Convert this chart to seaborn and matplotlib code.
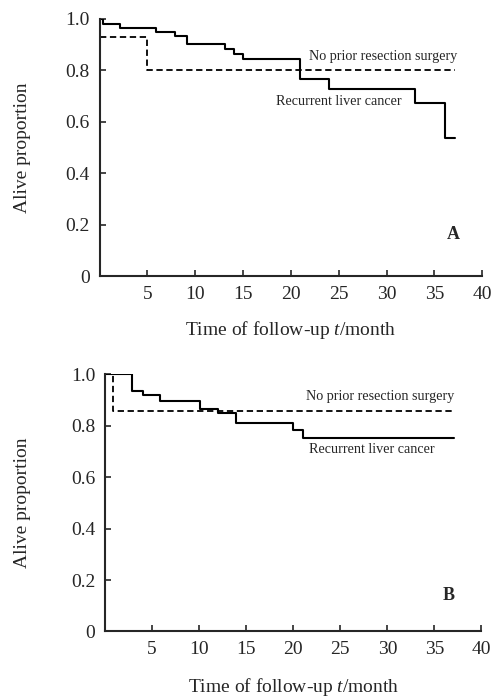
import matplotlib
matplotlib.use('Agg')
import matplotlib.pyplot as plt
import seaborn as sns

sns.set_style('ticks')
plt.rcParams['font.family'] = ['Liberation Serif', 'DejaVu Serif']
plt.rcParams['mathtext.fontset'] = 'custom'
plt.rcParams['mathtext.it'] = 'Liberation Serif:italic'
plt.rcParams['mathtext.rm'] = 'Liberation Serif'

# Panel A
a_recur_t = [0, 0.3, 2.1, 5.9, 7.9, 9.1, 13.1, 14.0, 15.0, 20.9, 24.0, 33.0, 36.1, 37.2]
a_recur_s = [1.0, 0.98, 0.963, 0.95, 0.932, 0.902, 0.883, 0.863, 0.844, 0.766, 0.729, 0.672, 0.538, 0.538]
a_noprior_t = [0, 4.9, 37.2]
a_noprior_s = [0.931, 0.8, 0.8]

# Panel B
b_recur_t = [0, 2.9, 4.0, 5.9, 10.1, 12.0, 13.9, 20.0, 21.0, 37.1]
b_recur_s = [1.0, 0.935, 0.918, 0.896, 0.866, 0.851, 0.812, 0.783, 0.753, 0.753]
b_noprior_t = [0, 0.9, 37.1]
b_noprior_s = [1.0, 0.857, 0.857]

x_ticks = [5, 10, 15, 20, 25, 30, 35, 40]
y_ticks = [0, 0.2, 0.4, 0.6, 0.8, 1.0]
y_ticklabels = ['0', '0.2', '0.4', '0.6', '0.8', '1.0']

fig = plt.figure(figsize=(4.91, 6.97), dpi=100)
ax1 = fig.add_axes([0.203, 0.604, 0.779, 0.369])
ax2 = fig.add_axes([0.2136, 0.094, 0.767, 0.369])


def draw_panel(ax, rt, rs, nt, ns, letter, no_xy, rec_xy, let_xy, xpad, ypad):
    sns.lineplot(x=rt, y=rs, ax=ax, drawstyle='steps-post', color='black',
                 linewidth=1.5, estimator=None)
    sns.lineplot(x=nt, y=ns, ax=ax, drawstyle='steps-post', color='black',
                 linewidth=1.3, linestyle=(0, (3.5, 2)), estimator=None)
    ax.set_xlim(0, 40)
    ax.set_ylim(0, 1.0)
    ax.set_xticks(x_ticks)
    ax.set_yticks(y_ticks)
    ax.set_yticklabels(y_ticklabels)
    ax.tick_params(direction='in', length=4, width=1.2, labelsize=14)
    ax.tick_params(axis='y', pad=7)
    ax.tick_params(axis='x', pad=7)
    for s in ['top', 'right']:
        ax.spines[s].set_visible(False)
    for s in ['left', 'bottom']:
        ax.spines[s].set_linewidth(1.5)
        ax.spines[s].set_clip_on(False)
    ax.set_xlabel('Time of follow-up $\\it{t}$/month', fontsize=14, labelpad=xpad)
    ax.set_ylabel('Alive proportion', fontsize=14, labelpad=ypad)
    ax.text(no_xy[0], no_xy[1], 'No prior resection surgery', fontsize=10.2,
            ha='left', va='center')
    ax.text(rec_xy[0], rec_xy[1], 'Recurrent liver cancer', fontsize=10.2,
            ha='left', va='center')
    ax.text(let_xy[0], let_xy[1], letter, fontsize=13, fontweight='bold',
            ha='center', va='center')


draw_panel(ax1, a_recur_t, a_recur_s, a_noprior_t, a_noprior_s, 'A',
           (21.9, 0.852), (18.4, 0.677), (37.0, 0.16), 12, 25)
draw_panel(ax2, b_recur_t, b_recur_s, b_noprior_t, b_noprior_s, 'B',
           (21.4, 0.913), (21.7, 0.708), (36.5, 0.139), 13, 29)

fig.savefig('out.png', dpi=100)
